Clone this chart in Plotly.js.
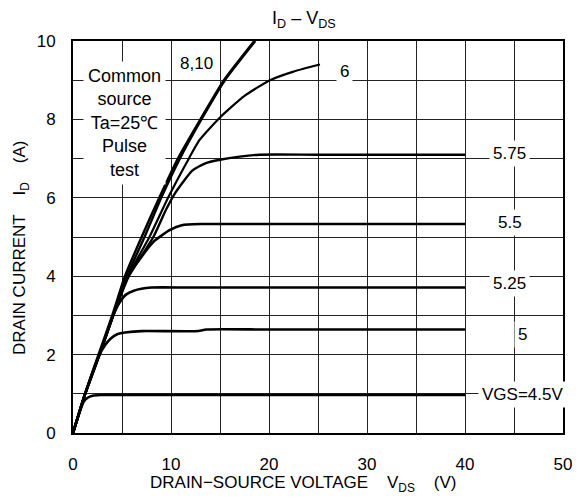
<!DOCTYPE html>
<html>
<head>
<meta charset="utf-8">
<script src="https://cdn.plot.ly/plotly-3.0.1.min.js"></script>
<style>html,body{margin:0;padding:0;background:#fff;}#chart{width:585px;height:499px;}</style>
</head>
<body>
<div id="chart"></div>
<script>
// ---- data ----
const vds_vgs10 = [0, 1.2, 2.6, 4.0, 5.3, 7.0, 8.8, 10.7, 13.0, 15.4, 18.5];
const id_vgs10  = [0, 0.97, 2.0, 3.0, 4.0, 5.0, 6.0, 7.0, 8.0, 9.0, 10.0];

const vds_vgs8 = [0, 1.2, 2.7, 4.1, 5.5, 7.3, 9.0, 10.9, 13.1, 15.5, 18.6];
const id_vgs8  = [0, 0.97, 2.0, 3.0, 4.0, 5.0, 6.0, 7.0, 8.0, 9.0, 10.0];

const vds_vgs6 = [0, 1.2, 2.7, 4.1, 5.6, 7.8, 9.7, 11.6, 12.9, 15.0, 17.5, 20.1, 22.5, 25.2];
const id_vgs6  = [0, 0.97, 2.0, 3.0, 4.0, 5.0, 6.0, 6.9, 7.47, 8.05, 8.6, 9.0, 9.22, 9.4];

const vds_vgs575 = [0, 1.2, 2.7, 4.1, 5.7, 8.2, 9.5, 10.5, 12.2, 13.5, 15.0, 17.0, 19.0, 25.0, 40];
const id_vgs575  = [0, 0.97, 2.0, 3.0, 4.0, 5.0, 5.7, 6.15, 6.7, 6.88, 6.97, 7.05, 7.1, 7.1, 7.1];

const vds_vgs55 = [0, 1.2, 2.7, 4.1, 5.6, 7.0, 8.3, 9.9, 11.1, 13.0, 20.0, 40];
const id_vgs55  = [0, 0.97, 2.0, 3.0, 4.0, 4.5, 4.9, 5.18, 5.3, 5.33, 5.33, 5.33];

const vds_vgs525 = [0, 1.2, 2.7, 4.1, 4.8, 5.4, 6.2, 8.0, 12.0, 40];
const id_vgs525  = [0, 0.97, 2.0, 3.0, 3.35, 3.53, 3.63, 3.71, 3.71, 3.71];

const vds_vgs5 = [0, 1.2, 2.6, 3.3, 3.8, 4.5, 5.5, 7.0, 12.8, 13.6, 20.0, 40];
const id_vgs5  = [0, 0.97, 1.95, 2.25, 2.4, 2.52, 2.57, 2.6, 2.6, 2.64, 2.64, 2.64];

const vds_vgs45 = [0, 0.5, 0.8, 1.1, 1.5, 2.0, 2.8, 8.0, 40];
const id_vgs45  = [0, 0.4, 0.62, 0.8, 0.9, 0.95, 0.97, 0.97, 0.97];

const xTickVals = [0, 10, 20, 30, 40, 50];
const yTickVals = [0, 2, 4, 6, 8, 10];

// curve labels: [text, V, I]
const curveLabels = [
  ["8,10", 12.6, 9.43],
  ["6", 27.7, 9.21],
  ["5.75", 44.5, 7.14],
  ["5.5", 44.6, 5.36],
  ["5.25", 44.5, 3.81],
  ["5", 45.9, 2.52],
  ["VGS=4.5V", 45.9, 0.97]
];

// ---- drawing ----
const FONT = "Liberation Sans, Arial, sans-serif";
function curve(x, y, w) {
  return {x: x, y: y, type: 'scatter', mode: 'lines',
          line: {color: '#000', width: w, shape: 'spline', smoothing: 0.55},
          hoverinfo: 'skip', showlegend: false};
}
const traces = [
  curve(vds_vgs10, id_vgs10, 2.4),
  curve(vds_vgs8, id_vgs8, 2.4),
  curve(vds_vgs6, id_vgs6, 2.2),
  curve(vds_vgs575, id_vgs575, 2.4),
  curve(vds_vgs55, id_vgs55, 2.6),
  curve(vds_vgs525, id_vgs525, 2.6),
  curve(vds_vgs5, id_vgs5, 2.6),
  curve(vds_vgs45, id_vgs45, 2.6)
];

const annotations = curveLabels.map(function (c) {
  return {x: c[1], y: c[2], xref: 'x', yref: 'y', text: c[0], showarrow: false,
          xanchor: 'center', yanchor: 'middle',
          bgcolor: '#fff', borderpad: 3,
          font: {family: FONT, size: 17, color: '#000'}};
});
annotations.push({
  x: 5.3, y: 7.9, xref: 'x', yref: 'y', showarrow: false, bgcolor: '#fff', borderpad: 4,
  xanchor: 'center', yanchor: 'middle',
  text: 'Common<br>source<br>Ta=25℃<br>Pulse<br>test', align: 'center',
  font: {family: FONT, size: 18, color: '#000'}
});
// pixel-positioned texts (px from top-left), converted to paper fractions below
const pxTexts = [
  {px: 304, py: 19, text: 'I<sub>D</sub> \u2013 V<sub>DS</sub>', size: 18, angle: 0},
  {px: 303, py: 484, text: 'DRAIN\u2212SOURCE VOLTAGE\u00a0\u00a0\u00a0\u00a0V<sub>DS</sub>\u00a0\u00a0\u00a0\u00a0(V)', size: 17, angle: 0},
  {px: 21, py: 248, text: 'DRAIN CURRENT\u00a0\u00a0\u00a0\u00a0I<sub>D</sub>\u00a0\u00a0\u00a0\u00a0(A)', size: 17, angle: -90}
];

const ML = 73, MR = 22, MT = 41, MB = 66, W = 585, H = 499;
const PW = W - ML - MR, PH = H - MT - MB;
pxTexts.forEach(function (t) {
  annotations.push({
    x: (t.px - ML) / PW, y: (H - t.py - MB) / PH, xref: 'paper', yref: 'paper',
    xanchor: 'center', yanchor: 'middle', showarrow: false, textangle: t.angle,
    text: t.text, font: {family: FONT, size: t.size, color: '#000'}
  });
});

const layout = {
  width: W, height: H,
  margin: {l: ML, r: MR, t: MT, b: MB, pad: 0},
  paper_bgcolor: '#fff', plot_bgcolor: '#fff',
  showlegend: false,
  xaxis: {
    range: [0, 50], tickvals: xTickVals,
    showgrid: true, gridcolor: '#222', gridwidth: 1, zeroline: false,
    minor: {dtick: 5, showgrid: true, gridcolor: '#222', gridwidth: 1, ticks: ''},
    showline: true, linecolor: '#000', linewidth: 2, mirror: true,
    ticks: 'outside', ticklen: 15, tickcolor: 'rgba(0,0,0,0)',
    tickfont: {family: FONT, size: 17, color: '#000'}, fixedrange: true
  },
  yaxis: {
    range: [0, 10], tickvals: yTickVals,
    showgrid: true, gridcolor: '#222', gridwidth: 1, zeroline: false,
    minor: {dtick: 1, showgrid: true, gridcolor: '#222', gridwidth: 1, ticks: ''},
    showline: true, linecolor: '#000', linewidth: 2, mirror: true,
    ticks: 'outside', ticklen: 12, tickcolor: 'rgba(0,0,0,0)',
    tickfont: {family: FONT, size: 17, color: '#000'}, fixedrange: true
  },
  annotations: annotations
};

Plotly.newPlot('chart', traces, layout, {staticPlot: true, displayModeBar: false});
</script>
</body>
</html>
